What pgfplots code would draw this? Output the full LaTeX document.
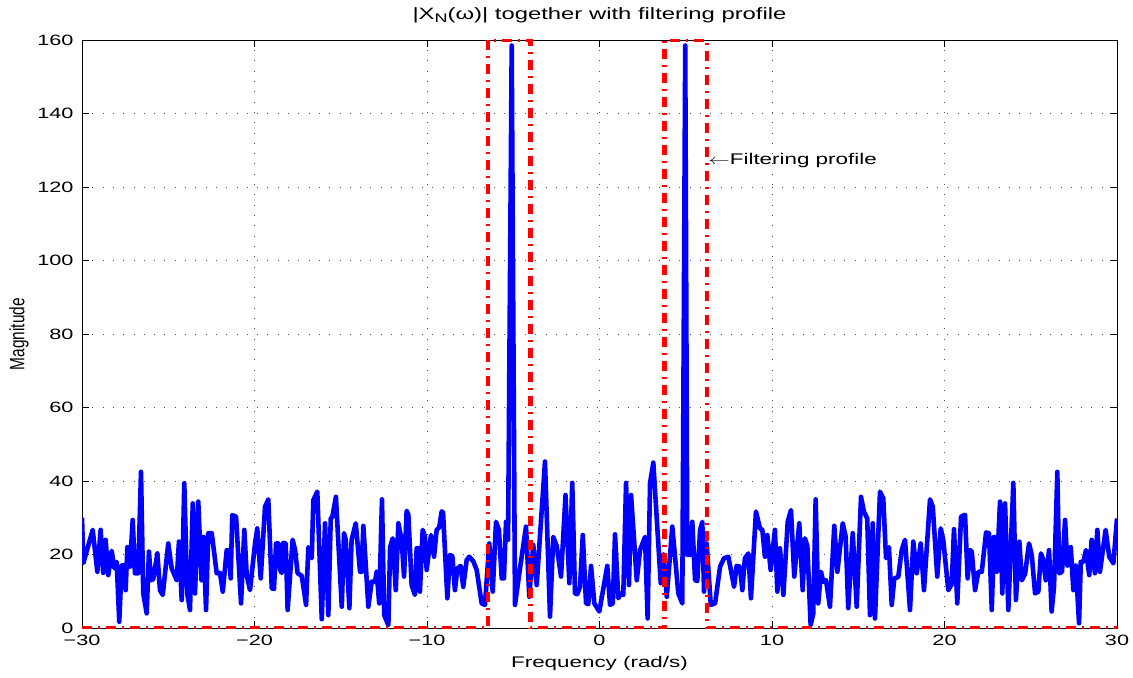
\documentclass[border=0pt]{standalone}
\usepackage{pgfplots}
\pgfplotsset{compat=1.18}
\usepackage{fontspec}
\setmainfont{Liberation Sans}[FakeStretch=1.45]
\newfontfamily\plainsans{Liberation Sans}

\begin{document}
\begin{tikzpicture}
\begin{axis}[
  scale only axis,
  width=1035bp, height=588bp,
  xmin=-30, xmax=30, ymin=0, ymax=160,
  xtick={-30,-20,...,30},
  xticklabels={−30,−20,−10,0,10,20,30},
  ytick={0,20,...,160},
  /pgf/number format/assume math mode=true,
  tick align=inside,
  major tick length=7bp,
  tick style={black, line width=0.8bp},
  axis line style={black, line width=0.9bp},
  grid=major,
  major grid style={black!70, line width=0.9bp, dash pattern=on 1bp off 9.3bp},
  ticklabel style={font=\fontsize{15}{15}\selectfont},
  xticklabel style={anchor=base, yshift=-17.5bp},
  yticklabel style={anchor=east, xshift=-5bp},
  title={|X\raisebox{-0.45ex}{\fontsize{12.5}{12}\selectfont N}(ω)| together with filtering profile},
  title style={at={(axis description cs:0.5,1.0255)}, anchor=base, inner sep=0pt,
    font=\fontsize{16.5}{17}\selectfont},
  xlabel={Frequency (rad/s)},
  xlabel style={at={(axis description cs:0.5,-0.068)}, anchor=base, inner sep=0pt,
    font=\fontsize{15.5}{16}\selectfont},
  ylabel={\scalebox{1}[1.35]{\plainsans\fontsize{15.5}{16}\selectfont Magnitude}},
  ylabel style={at={(axis description cs:-0.0609,0.5)}, anchor=center, inner sep=0pt},
]
\coordinate (sw) at (rel axis cs:0,0);
\coordinate (ne) at (rel axis cs:1,1);

% magnitude spectrum
\addplot[blue, line width=4.6bp, line join=round, mark=none] coordinates {
(-30.00,30.0) (-29.92,17.7) (-29.38,26.7) (-29.11,15.3) (-28.92,26.7) (-28.77,15.0)
(-28.63,24.0) (-28.48,14.4) (-28.28,21.0) (-28.13,16.3) (-27.99,18.0) (-27.84,1.7)
(-27.70,17.0) (-27.57,17.0) (-27.47,10.3) (-27.37,22.0) (-27.22,16.7) (-27.06,29.4)
(-26.93,14.9) (-26.74,14.9) (-26.58,42.5) (-26.45,9.4) (-26.25,4.0) (-26.12,20.8)
(-26.00,13.0) (-25.87,13.3) (-25.63,20.3) (-25.48,10.3) (-25.32,9.0) (-25.00,23.0)
(-24.80,16.2) (-24.51,13.0) (-24.38,23.5) (-24.22,7.6) (-24.07,39.4) (-23.90,9.4)
(-23.74,4.9) (-23.58,33.9) (-23.45,9.4) (-23.26,34.4) (-23.07,13.0) (-22.96,24.8)
(-22.81,4.9) (-22.68,25.8) (-22.48,25.8) (-22.19,14.9) (-22.00,15.0) (-21.84,9.9)
(-21.61,21.2) (-21.48,21.2) (-21.38,13.5) (-21.29,30.7) (-21.07,30.3) (-20.78,6.7)
(-20.59,26.7) (-20.45,14.4) (-20.26,10.3) (-19.97,23.0) (-19.84,27.1) (-19.64,13.5)
(-19.39,33.0) (-19.20,35.0) (-19.00,10.8) (-18.87,10.6) (-18.75,23.0) (-18.62,23.0)
(-18.52,15.8) (-18.42,15.0) (-18.33,23.2) (-18.19,23.0) (-18.08,4.9) (-17.79,24.0)
(-17.65,21.3) (-17.50,14.9) (-17.26,14.2) (-17.01,6.3) (-16.88,22.0) (-16.68,19.0)
(-16.59,34.8) (-16.36,37.1) (-16.10,2.4) (-15.91,28.5) (-15.72,3.5) (-15.58,29.8)
(-15.49,30.2) (-15.28,35.7) (-14.94,5.8) (-14.81,25.8) (-14.71,24.0) (-14.50,5.4)
(-14.37,24.0) (-14.13,28.5) (-13.88,15.3) (-13.79,15.3) (-13.69,27.8) (-13.40,5.8)
(-13.21,12.6) (-13.01,12.6) (-12.92,15.3) (-12.77,6.7) (-12.61,35.0) (-12.48,3.5)
(-12.24,0.8) (-12.14,22.0) (-11.99,24.4) (-11.81,10.3) (-11.66,28.5) (-11.47,24.0)
(-11.33,14.0) (-11.18,31.9) (-11.08,30.8) (-10.89,11.7) (-10.70,9.0) (-10.60,21.7)
(-10.48,21.7) (-10.41,9.9) (-10.25,26.7) (-10.12,24.9) (-10.02,15.8) (-9.77,25.3)
(-9.59,19.4) (-9.44,26.7) (-9.29,27.4) (-9.15,31.7) (-9.07,31.5) (-8.82,8.1)
(-8.67,19.9) (-8.53,19.5) (-8.38,10.3) (-8.24,16.2) (-8.05,16.9) (-7.90,11.2)
(-7.70,18.5) (-7.55,19.4) (-7.32,18.2) (-7.12,15.8) (-6.83,6.7) (-6.64,6.3)
(-6.39,23.0) (-6.19,9.9) (-6.00,28.9) (-5.83,26.7) (-5.67,13.5) (-5.54,13.5)
(-5.42,28.9) (-5.30,24.0) (-5.09,158.5) (-4.90,6.3) (-4.61,16.2) (-4.26,27.6)
(-4.07,8.5) (-3.84,22.6) (-3.64,11.7) (-3.16,45.3) (-2.87,3.1) (-2.68,24.8)
(-2.48,22.3) (-2.23,14.0) (-1.97,36.2) (-1.75,12.2) (-1.58,39.5) (-1.42,9.4)
(-1.29,9.2) (-1.13,11.2) (-0.97,25.3) (-0.78,6.7) (-0.65,6.5) (-0.49,16.9)
(-0.30,6.7) (-0.01,4.5) (0.45,16.9) (0.61,6.3) (0.77,6.7) (0.90,25.5)
(1.09,8.1) (1.23,9.4) (1.38,9.0) (1.54,39.5) (1.71,11.7) (1.83,36.2)
(2.16,13.0) (2.35,21.2) (2.64,24.8) (2.79,2.6) (2.93,39.4) (3.12,45.0)
(3.55,12.2) (3.71,20.0) (3.90,8.5) (4.22,27.6) (4.57,9.4) (4.80,6.7)
(4.97,158.5) (5.09,19.9) (5.25,19.9) (5.38,28.9) (5.54,13.0) (5.67,12.8)
(5.83,26.7) (5.96,28.9) (6.06,9.9) (6.21,23.0) (6.45,6.3) (6.70,6.7)
(6.99,16.7) (7.22,19.0) (7.47,19.4) (7.80,11.2) (7.95,16.9) (8.14,16.7)
(8.28,10.3) (8.43,19.0) (8.63,20.3) (8.78,8.1) (9.07,31.7) (9.30,27.1)
(9.44,26.7) (9.59,19.4) (9.73,25.3) (9.92,15.8) (10.17,26.7) (10.31,9.9)
(10.46,21.7) (10.66,9.0) (10.91,28.9) (11.10,32.1) (11.29,14.0) (11.58,28.5)
(11.78,10.3) (11.91,24.4) (12.05,22.3) (12.24,0.8) (12.39,3.9) (12.53,35.0)
(12.68,6.7) (12.84,15.3) (12.97,12.6) (13.13,13.0) (13.36,5.8) (13.61,27.8)
(13.79,15.3) (14.10,28.5) (14.27,24.9) (14.42,5.4) (14.68,25.8) (14.91,5.8)
(15.16,35.7) (15.33,31.7) (15.52,29.8) (15.68,3.5) (15.84,28.5) (15.97,2.6)
(16.26,37.1) (16.45,35.3) (16.61,19.0) (16.78,22.0) (16.94,6.3) (17.09,13.5)
(17.32,13.9) (17.52,21.2) (17.71,24.0) (18.00,4.9) (18.19,23.5) (18.39,14.9)
(18.62,23.0) (18.81,10.3) (19.16,35.0) (19.32,33.0) (19.58,14.0) (19.78,27.1)
(19.93,23.9) (20.22,10.3) (20.42,12.0) (20.55,26.9) (20.74,6.7) (20.96,30.3)
(21.19,30.8) (21.34,13.5) (21.48,21.2) (21.58,20.8) (21.77,10.3) (21.96,15.3)
(22.16,15.3) (22.41,26.0) (22.58,25.8) (22.74,4.9) (22.87,24.8) (23.03,15.3)
(23.22,34.4) (23.35,9.4) (23.51,33.9) (23.70,4.9) (23.99,39.5) (24.14,7.6)
(24.34,23.5) (24.48,13.0) (24.67,14.7) (24.90,23.0) (25.06,19.8) (25.25,9.4)
(25.44,9.9) (25.59,20.3) (25.73,18.5) (25.87,13.0) (26.06,21.2) (26.21,4.5)
(26.35,11.3) (26.54,42.5) (26.65,14.9) (26.81,15.3) (26.99,29.4) (27.12,17.0)
(27.32,22.0) (27.47,10.3) (27.61,17.0) (27.80,1.3) (27.90,18.0) (28.05,18.0)
(28.20,21.2) (28.39,14.4) (28.53,24.0) (28.72,14.9) (28.86,26.7) (29.01,15.3)
(29.34,26.7) (29.55,19.4) (29.79,17.6) (30.00,29.8)
};

% band-pass filtering profile
\addplot[red, line width=4.2bp, line cap=butt, line join=miter,
  dash pattern=on 10bp off 6bp on 2bp off 6bp, mark=none] coordinates {
(-30,0) (-6.45,0) (-6.45,160) (-4.0,160) (-4.0,0) (3.77,0)
(3.77,160) (6.22,160) (6.22,0) (30,0)
};

\node[anchor=west, inner sep=0pt, font=\fontsize{15.5}{16}\selectfont]
  at (axis cs:6.3,127.3) {\scalebox{1.5}[1]{$\leftarrow$}Filtering profile};
\end{axis}
\pgfresetboundingbox
\path ([shift={(-82bp,-49bp)}]sw) rectangle ([shift={(16bp,40bp)}]ne);
\end{tikzpicture}
\end{document}
